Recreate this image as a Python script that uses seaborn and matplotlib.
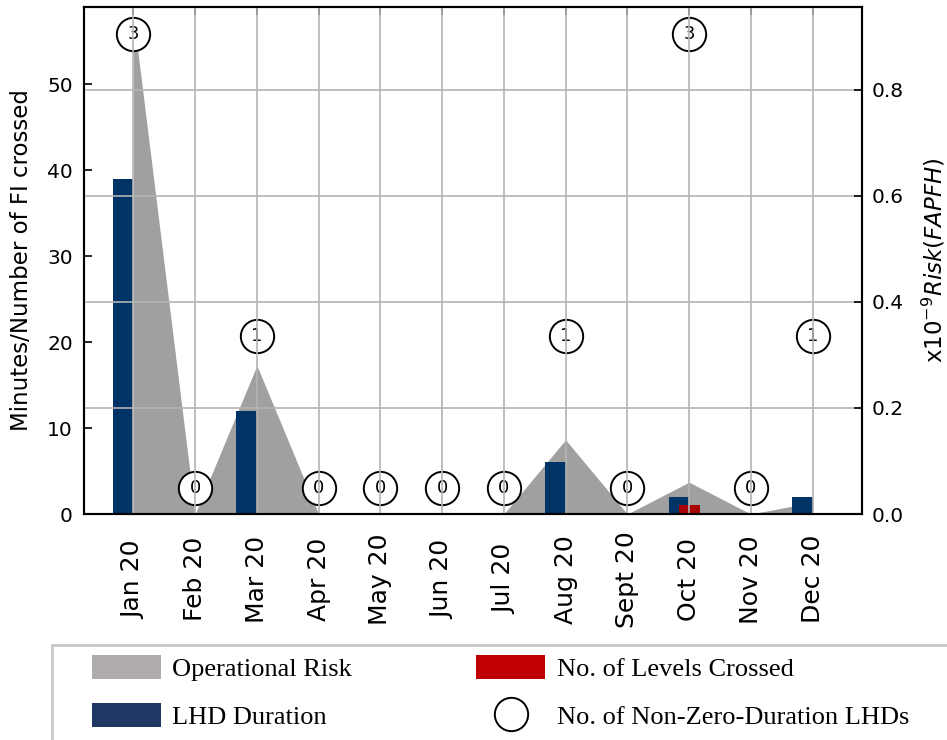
import numpy as np
import matplotlib
matplotlib.use("Agg")
import matplotlib.pyplot as plt
import seaborn as sns
from matplotlib.patches import Patch, Rectangle
from matplotlib.lines import Line2D

# data
months = ["Jan 20", "Feb 20", "Mar 20", "Apr 20", "May 20", "Jun 20",
          "Jul 20", "Aug 20", "Sept 20", "Oct 20", "Nov 20", "Dec 20"]
lhd_duration = [39, 0, 12, 0, 0, 0, 0, 6, 0, 2, 0, 2]
levels_crossed = [0, 0, 0, 0, 0, 0, 0, 0, 0, 1, 0, 0]
op_risk = [0.94, 0.0, 0.28, 0.0, 0.0, 0.0, 0.0, 0.14, 0.0, 0.06, 0.0, 0.022]
nonzero_lhds = [3, 0, 1, 0, 0, 0, 0, 1, 0, 3, 0, 1]

legend_labels = ["Operational Risk", "LHD Duration",
                 "No. of Levels Crossed", "No. of Non-Zero-Duration LHDs"]

# colours
GRAY = "#a0a0a0"
BLUE = "#003366"
RED = "#a80000"
GRID = "#b4b4b4"

sns.set_style("white")
plt.rcParams["font.family"] = ["DejaVu Sans"]
plt.rcParams["axes.edgecolor"] = "black"
plt.rcParams["axes.linewidth"] = 1.5
plt.rcParams["text.color"] = "black"
plt.rcParams["axes.labelcolor"] = "black"
plt.rcParams["xtick.color"] = "black"
plt.rcParams["ytick.color"] = "black"


def main():
    x = np.arange(len(months))

    fig = plt.figure(figsize=(9.47, 7.40), dpi=100)
    ax = fig.add_axes([0.0887, 0.3054, 0.8215, 0.6851])
    ax2 = ax.twinx()   # risk scale (right), also carries the grid on top
    ax3 = ax.twinx()   # hidden scale for the count circles
    ax.set_zorder(0)
    ax3.set_zorder(1)
    ax2.set_zorder(2)
    ax2.patch.set_visible(False)
    ax3.patch.set_visible(False)

    ax.set_xlim(-0.8, 11.8)
    ax.set_ylim(0, 59)
    ax2.set_ylim(0, 0.956)
    ax3.set_ylim(-0.175, 3.175)

    # operational risk area (right scale), drawn behind the bars
    ax.fill_between(x, op_risk, color=GRAY, lw=0, zorder=1,
                    transform=ax2.transData)

    # LHD duration bars end at the month tick, levels crossed centred on it
    ax.bar(x, lhd_duration, width=-0.333, align="edge", color=BLUE,
           edgecolor="none", linewidth=0, zorder=2)
    ax.bar(x, levels_crossed, width=0.34, color=RED,
           edgecolor="none", linewidth=0, zorder=3)

    # circles with number of non-zero-duration LHDs
    sns.scatterplot(x=x, y=nonzero_lhds, ax=ax3, s=576, color="white",
                    edgecolor="black", linewidth=1.4, legend=False, zorder=2)
    for xi, n in zip(x, nonzero_lhds):
        ax3.text(xi, n, str(n), ha="center", va="center", fontsize=13,
                 color="black", zorder=3)
    ax3.set_axis_off()

    # axes, ticks
    ax.set_xticks(x)
    ax.set_xticklabels(months, rotation=90, va="center", fontsize=18)
    ax.set_yticks(range(0, 60, 10))
    ax.tick_params(axis="both", direction="in", length=6, width=1.2,
                   top=True, labelsize=14.5, pad=8, colors="black")
    ax.tick_params(axis="x", pad=47, labelsize=18)
    ax.set_ylabel("Minutes/Number of FI crossed", fontsize=16.5, labelpad=10)

    ax2.set_yticks([0.0, 0.2, 0.4, 0.6, 0.8])
    ax2.yaxis.set_major_formatter("{x:.1f}")
    ax2.tick_params(axis="y", direction="in", length=6, width=1.2,
                    labelsize=14.5, pad=7, colors="black")
    ax2.set_ylabel(r"x10$^{-9}Risk(FAPFH)$", fontsize=16.5, labelpad=12)

    # grid on the top axes so it shows over bars and circles
    ax2.xaxis.set_visible(True)
    ax2.tick_params(axis="x", bottom=False, top=False,
                    labelbottom=False, labeltop=False)
    ax2.grid(True, axis="both", color=GRID, lw=1.2)

    for a in (ax, ax2):
        for s in a.spines.values():
            s.set_linewidth(1.5)
            s.set_color("black")

    # legend below the chart
    handles = [
        Patch(facecolor="#afabab", edgecolor="none"),
        Patch(facecolor="#203864", edgecolor="none"),
        Patch(facecolor="#c00000", edgecolor="none"),
        Line2D([], [], ls="none", marker="o", ms=24, mfc="white",
               mec="black", mew=1.4),
    ]
    fig.legend(handles, legend_labels, loc="upper left",
               bbox_to_anchor=(92 / 947, 1 - 655 / 740), ncol=2,
               frameon=False, prop={"family": "Liberation Serif", "size": 19},
               handlelength=2.6, handleheight=1.0, handletextpad=0.45,
               columnspacing=4.7, labelspacing=0.85, borderpad=0,
               borderaxespad=0)
    fig.add_artist(Rectangle((52 / 947, -0.1), 1.0, 0.1 + 1 - 645 / 740,
                             transform=fig.transFigure, fill=False,
                             edgecolor="#c8c8c8", lw=2))

    fig.savefig("out.png", dpi=100)


if __name__ == "__main__":
    main()
